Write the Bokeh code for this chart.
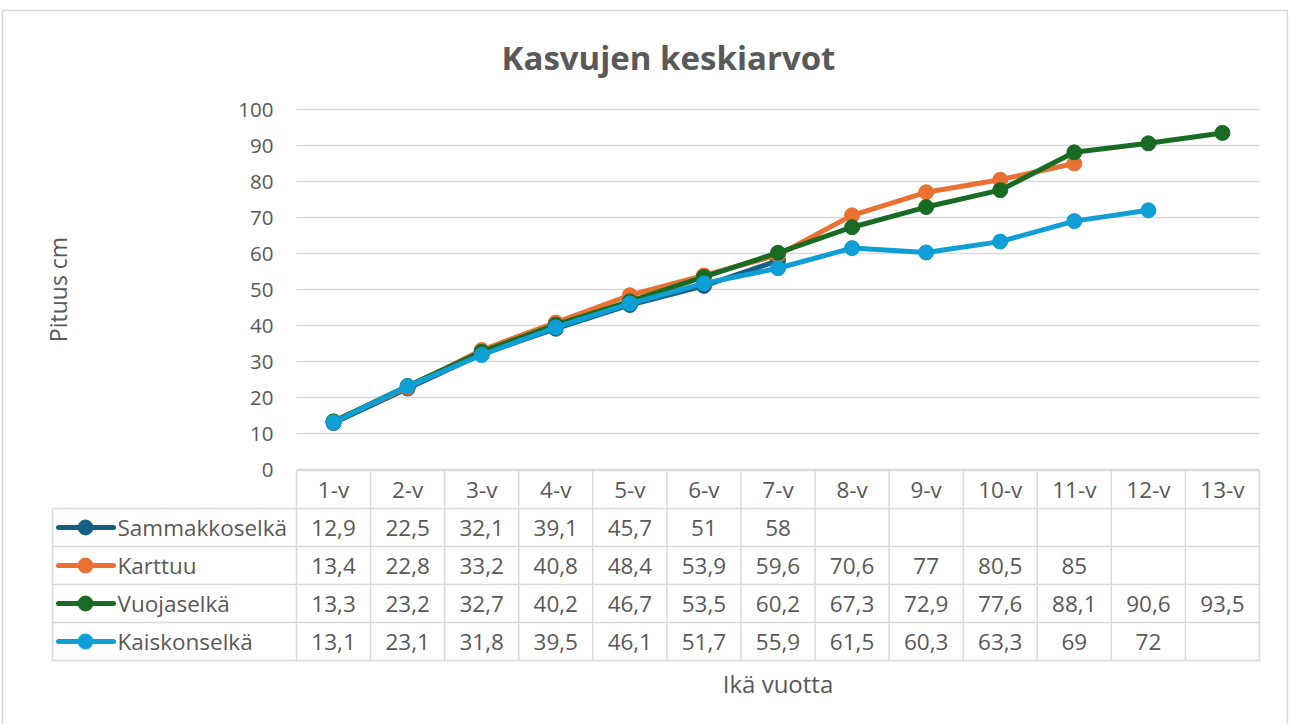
import math
from bokeh.plotting import figure
from bokeh.models import Range1d, ColumnDataSource
from bokeh.embed import file_html
from bokeh.resources import INLINE
from bokeh.core.properties import value

# ---------------- data ----------------
categories = ["1-v", "2-v", "3-v", "4-v", "5-v", "6-v", "7-v",
              "8-v", "9-v", "10-v", "11-v", "12-v", "13-v"]
series_names = ["Sammakkoselkä", "Karttuu", "Vuojaselkä", "Kaiskonselkä"]
sammakkoselka = [12.9, 22.5, 32.1, 39.1, 45.7, 51, 58]
karttuu = [13.4, 22.8, 33.2, 40.8, 48.4, 53.9, 59.6, 70.6, 77, 80.5, 85]
vuojaselka = [13.3, 23.2, 32.7, 40.2, 46.7, 53.5, 60.2, 67.3, 72.9, 77.6, 88.1, 90.6, 93.5]
kaiskonselka = [13.1, 23.1, 31.8, 39.5, 46.1, 51.7, 55.9, 61.5, 60.3, 63.3, 69, 72]
series_values = [sammakkoselka, karttuu, vuojaselka, kaiskonselka]
colors = ["#156082", "#E97132", "#196B24", "#0F9ED5"]
y_ticks = [0, 10, 20, 30, 40, 50, 60, 70, 80, 90, 100]

title_text = "Kasvujen keskiarvot"
y_title = "Pituus cm"
x_title = "Ikä vuotta"

# ---------------- layout / style ----------------
FONT = "Open Sans"
TXT = "#595959"
GRID = "#d9d9d9"
W, H = 1290, 724
PLOT_L, PLOT_R, PLOT_T, PLOT_B = 296, 1259, 109, 469   # plot area (px)
TABLE_L, TABLE_T, ROW_PX = 52, 470, 38                  # data table (px)

n = len(categories)
nrows = len(series_names)
cell = (PLOT_R - PLOT_L) / n
ppu = (PLOT_B - PLOT_T) / (y_ticks[-1] - y_ticks[0])


def X(px):
    return (px - PLOT_L) / cell


def Y(py):
    return y_ticks[0] + (PLOT_B - py) / ppu


p = figure(width=W, height=H,
           x_range=Range1d(X(0), X(W)), y_range=Range1d(Y(H), Y(0)),
           x_axis_type=None, y_axis_type=None,
           output_backend="svg", toolbar_location=None,
           min_border=0, min_border_left=0, min_border_right=0,
           min_border_top=0, min_border_bottom=0)
p.outline_line_color = None
p.background_fill_color = "white"
p.border_fill_color = "white"
p.grid.visible = False

# chart border
p.line([X(2), X(2), X(1287), X(1287)], [Y(H), Y(10), Y(10), Y(H)],
       line_color=GRID, line_width=1.5)

# horizontal gridlines of the value axis
p.segment(x0=[0] * len(y_ticks), x1=[n] * len(y_ticks), y0=y_ticks, y1=y_ticks,
          line_color=GRID, line_width=1.5)

# value-axis tick labels
p.text(x=[X(PLOT_L - 23)] * len(y_ticks), y=y_ticks, text=[str(t) for t in y_ticks],
       text_align="right", text_baseline="middle",
       text_font=value(FONT), text_font_size="20.5px", text_color=TXT)

# series
for vals, col in zip(series_values, colors):
    src = ColumnDataSource(dict(x=[i + 0.5 for i in range(len(vals))], y=vals))
    p.line("x", "y", source=src, line_color=col, line_width=5, line_join="round")
    p.scatter("x", "y", source=src, size=15, fill_color=col, line_color=col)

# titles
p.text(x=[X(668)], y=[Y(57)], text=[title_text], text_align="center", text_baseline="middle",
       text_font=value(FONT), text_font_size="33px", text_font_style="bold", text_color=TXT)
p.text(x=[X(57)], y=[(y_ticks[0] + y_ticks[-1]) / 2], text=[y_title], angle=math.pi / 2,
       text_align="center", text_baseline="middle",
       text_font=value(FONT), text_font_size="23px", text_color=TXT)
p.text(x=[n / 2], y=[Y(683)], text=[x_title], text_align="center", text_baseline="middle",
       text_font=value(FONT), text_font_size="24px", text_color=TXT)

# ---------------- data table ----------------
def RY(r):
    return Y(TABLE_T + r * ROW_PX)


leg = X(TABLE_L)
x0s, y0s, x1s, y1s = [], [], [], []
for i in range(n + 1):
    x0s.append(i); x1s.append(i); y0s.append(RY(0)); y1s.append(RY(nrows + 1))
x0s.append(leg); x1s.append(leg); y0s.append(RY(1)); y1s.append(RY(nrows + 1))
x0s.append(0); x1s.append(n); y0s.append(RY(0)); y1s.append(RY(0))
for r in range(1, nrows + 2):
    x0s.append(leg); x1s.append(n); y0s.append(RY(r)); y1s.append(RY(r))
p.segment(x0=x0s, y0=y0s, x1=x1s, y1=y1s, line_color=GRID, line_width=1.5)

TFS = "22.5px"
p.text(x=[i + 0.5 for i in range(n)], y=[RY(0.5)] * n, text=categories,
       text_align="center", text_baseline="middle",
       text_font=value(FONT), text_font_size=TFS, text_color=TXT)


def fmt(v):
    return f"{v:g}".replace(".", ",")


tx, ty, tt = [], [], []
for r, vals in enumerate(series_values, start=1):
    for i, v in enumerate(vals):
        tx.append(i + 0.5); ty.append(RY(r + 0.5)); tt.append(fmt(v))
p.text(x=tx, y=ty, text=tt, text_align="center", text_baseline="middle",
       text_font=value(FONT), text_font_size=TFS, text_color=TXT)

# legend keys inside the table
rows_y = [RY(r + 0.5) for r in range(1, nrows + 1)]
for y, col in zip(rows_y, colors):
    p.line([X(TABLE_L + 6), X(TABLE_L + 61)], [y, y], line_color=col, line_width=5, line_cap="round")
    p.scatter([X(TABLE_L + 33)], [y], size=15, fill_color=col, line_color=col)
p.text(x=[X(TABLE_L + 65)] * nrows, y=rows_y, text=series_names,
       text_align="left", text_baseline="middle",
       text_font=value(FONT), text_font_size=TFS, text_color=TXT)

open("out.html", "w").write(file_html(p, INLINE))
